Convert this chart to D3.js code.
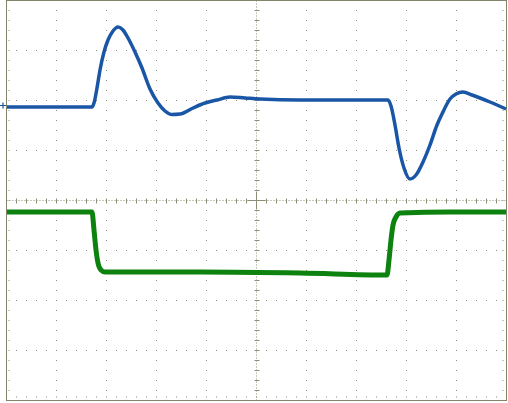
<!DOCTYPE html>
<html>
<head>
<meta charset="utf-8">
<script src="https://cdn.jsdelivr.net/npm/d3@7"></script>
<style>
  html, body { margin: 0; padding: 0; background: #fff; }
  svg { display: block; }
</style>
</head>
<body>
<div id="chart"></div>
<script>
// trace data, in screen divisions (time: 0..10 div, level: -4..4 div)
var ch1Time = [0.01, 1.71, 1.75, 1.81, 1.87, 1.95, 2.03, 2.13, 2.23, 2.33, 2.43, 2.57, 2.71, 2.87, 3.03, 3.17, 3.31, 3.47, 3.73, 3.97, 4.21, 4.47, 4.77, 5.07, 5.87, 6.87, 7.63, 7.69, 7.77, 7.85, 7.95, 8.07, 8.19, 8.33, 8.47, 8.61, 8.71, 8.87, 8.99, 9.13, 9.31, 9.47, 9.67, 9.81, 9.99];
var ch1Level = [1.87, 1.87, 1.95, 2.25, 2.61, 2.97, 3.21, 3.39, 3.47, 3.41, 3.25, 2.97, 2.65, 2.23, 1.95, 1.79, 1.72, 1.73, 1.85, 1.95, 2.01, 2.07, 2.05, 2.03, 2.01, 2.01, 2.01, 1.89, 1.51, 1.05, 0.65, 0.43, 0.51, 0.77, 1.11, 1.51, 1.73, 2.03, 2.13, 2.17, 2.11, 2.05, 1.97, 1.91, 1.83];

var ch2Time = [0.01, 1.71, 1.75, 1.79, 1.83, 1.89, 1.97, 3.87, 5.87, 7.61, 7.65, 7.69, 7.73, 7.79, 7.87, 8.87, 9.99];
var ch2Level = [-0.23, -0.23, -0.59, -0.99, -1.25, -1.39, -1.43, -1.43, -1.45, -1.49, -1.19, -0.79, -0.49, -0.33, -0.25, -0.23, -0.23];

var ch1Marker = 1.9; // ground marker level of channel 1

var width = 508, height = 403;
var padLeft = 6.5, padTop = 0.5, plotW = 500, plotH = 400;
var xDivs = 10, yDivs = 8;
var gridColor = "#8e8e76";

var x = d3.scaleLinear().domain([0, xDivs]).range([padLeft, padLeft + plotW]);
var y = d3.scaleLinear().domain([-yDivs / 2, yDivs / 2]).range([padTop + plotH, padTop]);

var svg = d3.select("#chart").append("svg")
  .attr("width", width)
  .attr("height", height);

// graticule:
var grid = svg.append("g").attr("class", "graticule");
var minor = d3.range(0, xDivs + 0.001, 0.2);
var minorY = d3.range(-yDivs / 2, yDivs / 2 + 0.001, 0.2);

// dotted major lines (a dot at each minor division)
d3.range(1, xDivs).forEach(function (i) {
  if (i === xDivs / 2) { return; }
  grid.selectAll(null).data(minorY).enter().append("rect")
    .attr("x", Math.floor(x(i)))
    .attr("y", function (d) { return Math.floor(y(d)); })
    .attr("width", 1).attr("height", 1)
    .attr("fill", gridColor);
});
d3.range(-yDivs / 2 + 1, yDivs / 2).forEach(function (j) {
  if (j === 0) { return; }
  grid.selectAll(null).data(minor).enter().append("rect")
    .attr("x", function (d) { return Math.floor(x(d)); })
    .attr("y", Math.floor(y(j)))
    .attr("width", 1).attr("height", 1)
    .attr("fill", gridColor);
});

// center axes: dense dots plus minor tick marks
grid.append("line")
  .attr("x1", x(0)).attr("x2", x(xDivs))
  .attr("y1", y(0)).attr("y2", y(0))
  .attr("stroke", gridColor).attr("stroke-dasharray", "1,2");
grid.append("line")
  .attr("x1", x(xDivs / 2)).attr("x2", x(xDivs / 2))
  .attr("y1", y(-yDivs / 2)).attr("y2", y(yDivs / 2))
  .attr("stroke", gridColor).attr("stroke-dasharray", "1,2");
grid.selectAll(null).data(minor).enter().append("line")
  .attr("x1", function (d) { return x(d); }).attr("x2", function (d) { return x(d); })
  .attr("y1", y(0) - 2).attr("y2", y(0) + 3)
  .attr("stroke", gridColor);
grid.selectAll(null).data(minorY).enter().append("line")
  .attr("x1", x(xDivs / 2) - 2).attr("x2", x(xDivs / 2) + 3)
  .attr("y1", function (d) { return y(d); }).attr("y2", function (d) { return y(d); })
  .attr("stroke", gridColor);
grid.append("line")
  .attr("x1", x(xDivs / 2) - 9).attr("x2", x(xDivs / 2) + 9)
  .attr("y1", y(0)).attr("y2", y(0))
  .attr("stroke", gridColor);
grid.append("line")
  .attr("x1", x(xDivs / 2)).attr("x2", x(xDivs / 2))
  .attr("y1", y(0) - 9).attr("y2", y(0) + 9)
  .attr("stroke", gridColor);

// small ticks along the border
grid.selectAll(null).data(minorY).enter().append("rect")
  .attr("x", x(0) + 2).attr("y", function (d) { return Math.floor(y(d)); })
  .attr("width", 1).attr("height", 1).attr("fill", gridColor);
grid.selectAll(null).data(minorY).enter().append("rect")
  .attr("x", x(xDivs) - 4).attr("y", function (d) { return Math.floor(y(d)); })
  .attr("width", 1).attr("height", 1).attr("fill", gridColor);
grid.selectAll(null).data(minor).enter().append("rect")
  .attr("x", function (d) { return Math.floor(x(d)); }).attr("y", y(-yDivs / 2) - 4)
  .attr("width", 1).attr("height", 1).attr("fill", gridColor);

// border
grid.append("rect")
  .attr("x", padLeft).attr("y", padTop)
  .attr("width", plotW).attr("height", plotH)
  .attr("fill", "none").attr("stroke", "#84846a");

// traces:
var line = d3.line()
  .x(function (d) { return x(d[0]); })
  .y(function (d) { return y(d[1]); })
  .curve(d3.curveMonotoneX);

var ch2 = d3.zip(ch2Time, ch2Level);
var ch1 = d3.zip(ch1Time, ch1Level);

svg.append("path")
  .attr("d", line(ch2))
  .attr("fill", "none")
  .attr("stroke", "#0e820e")
  .attr("stroke-width", 5)
  .attr("stroke-linejoin", "round");
svg.append("path")
  .attr("d", line(ch1))
  .attr("fill", "none")
  .attr("stroke", "#1a56a6")
  .attr("stroke-width", 3.5)
  .attr("stroke-linejoin", "round");

// channel 1 ground marker
var my = Math.round(y(ch1Marker)) + 0.5;
svg.append("path")
  .attr("d", "M0," + my + "H6M3," + (my - 3) + "V" + (my + 3))
  .attr("stroke", "#1a56a6")
  .attr("stroke-width", 1.2);
</script>
</body>
</html>
